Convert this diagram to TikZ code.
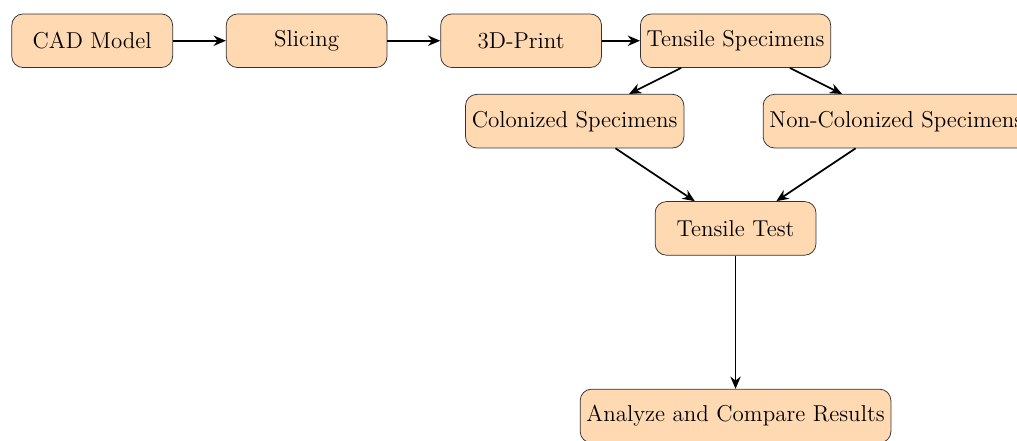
\documentclass[tikz,border=0pt]{standalone}
\usetikzlibrary{arrows.meta,positioning}
\begin{document}
\begin{tikzpicture}[
  box/.style={draw=black!80, fill=orange!30, rounded corners=6pt, minimum width=3cm, minimum height=1cm, font=\fontsize{12.2}{14.5}\selectfont, align=center},
  conn/.style={-{Stealth[length=6.5pt,width=5.5pt]}, line width=0.9pt}
]
\clip (-1.72,0.76) rectangle (17.25,-7.45);
\useasboundingbox (-1.72,0.76) rectangle (17.25,-7.45);
\node[box] (cad) at (0,0) {CAD Model};
\node[box] (slice) at (4,0) {Slicing};
\node[box] (print) at (8,0) {3D-Print};
\node[box] (ts) at (12,0) {Tensile Specimens};
\node[box] (col) at (9,-1.5) {Colonized Specimens};
\node[box] (ncol) at (15,-1.5) {Non-Colonized Specimens};
\node[box] (test) at (12,-3.5) {Tensile Test};
\node[box] (res) at (12,-7) {Analyze and Compare Results};
\draw[conn] (cad) -- (slice);
\draw[conn] (slice) -- (print);
\draw[conn] (print) -- (ts);
\draw[conn] (ts) -- (col);
\draw[conn] (ts) -- (ncol);
\draw[conn] (col) -- (test);
\draw[conn] (ncol) -- (test);
\draw[conn] (test) -- (res);
\end{tikzpicture}
\end{document}
